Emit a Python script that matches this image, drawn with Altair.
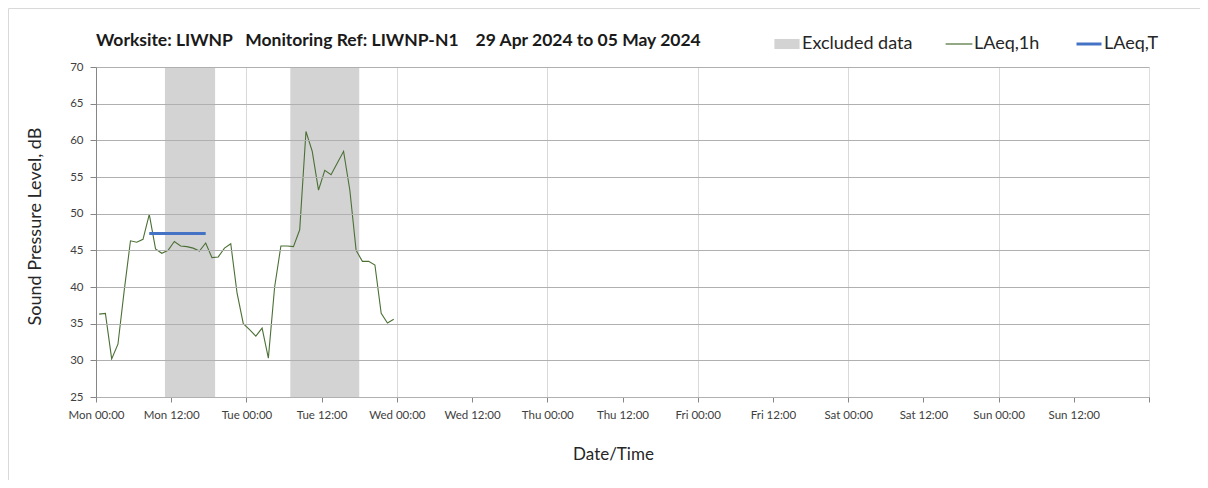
import altair as alt
import pandas as pd

# ---- data ----
series_names = ["Excluded data", "LAeq,1h", "LAeq,T"]
series_colors = ["#d3d3d3", "#4b7035", "#4472c4"]

day_names = ["Mon", "Tue", "Wed", "Thu", "Fri", "Sat", "Sun"]
tick_hours = [0, 12, 24, 36, 48, 60, 72, 84, 96, 108, 120, 132, 144, 156, 168]
y_ticks = [25, 30, 35, 40, 45, 50, 55, 60, 65, 70]

hours = [0.5, 1.5, 2.5, 3.5, 4.5, 5.5, 6.5, 7.5, 8.5, 9.5, 10.5, 11.5,
         12.5, 13.5, 14.5, 15.5, 16.5, 17.5, 18.5, 19.5, 20.5, 21.5, 22.5, 23.5,
         24.5, 25.5, 26.5, 27.5, 28.5, 29.5, 30.5, 31.5, 32.5, 33.5, 34.5, 35.5,
         36.5, 37.5, 38.5, 39.5, 40.5, 41.5, 42.5, 43.5, 44.5, 45.5, 46.5, 47.5]
laeq_1h = [36.3, 36.4, 30.2, 32.2, 39.5, 46.3, 46.1, 46.5, 49.9, 45.2, 44.6, 45.0,
           46.2, 45.6, 45.5, 45.3, 44.9, 46.0, 44.0, 44.1, 45.3, 45.9, 39.2, 35.0,
           34.2, 33.3, 34.4, 30.3, 40.0, 45.6, 45.6, 45.5, 47.8, 61.2, 58.5, 53.2,
           55.9, 55.3, 56.9, 58.5, 53.2, 45.0, 43.5, 43.5, 43.0, 36.4, 35.1, 35.6]

laeqT_hours = [8.5, 17.5]
laeqT_values = [47.3, 47.3]

excl_start = [11, 31]
excl_end = [19, 42]

y_min, y_max = 25, 70

title_text = ("Worksite: LIWNP\u00a0\u00a0\u00a0Monitoring Ref: LIWNP-N1"
              "\u00a0\u00a0\u00a0\u00a029 Apr 2024 to 05 May 2024")

# ---- tables ----
excl_df = pd.DataFrame({"start": excl_start, "end": excl_end,
                        "series": ["Excluded data"] * len(excl_start),
                        "ymin": [y_min] * len(excl_start),
                        "ymax": [y_max] * len(excl_start)})
line_df = pd.DataFrame({"hour": hours, "level": laeq_1h,
                        "series": ["LAeq,1h"] * len(hours)})
t_df = pd.DataFrame({"hour": laeqT_hours, "level": laeqT_values,
                     "series": ["LAeq,T"] * len(laeqT_hours)})

FONT = "Lato"

x_scale = alt.Scale(domain=[0, 168], nice=False, zero=False)
y_scale = alt.Scale(domain=[y_min, y_max], nice=False, zero=False)

label_expr = ("datum.value >= 168 ? '' : " + str(day_names) +
              "[floor(datum.value / 24)] + ' ' + (datum.value % 24 == 0 ? '00:00' : '12:00')")

x_axis = alt.Axis(values=tick_hours, labelExpr=label_expr, title="Date/Time",
                  grid=True, gridColor="#d9d9d9",
                  gridOpacity={"condition": {"test": "datum.value % 24 === 0 && datum.value > 0 && datum.value < 168",
                                             "value": 1}, "value": 0},
                  domainColor="#868686", tickColor="#868686", tickSize=5,
                  labelFont=FONT, labelFontSize=11.5, labelColor="#404040", labelPadding=7,
                  labelFlush=False, labelOverlap=False,
                  titleFont=FONT, titleFontSize=17, titleFontWeight="normal", titleColor="#262626",
                  titleX=517, titleY=57, titleBaseline="middle", titleAnchor="middle")
y_axis = alt.Axis(values=y_ticks, title="Sound Pressure Level, dB",
                  grid=True, gridColor="#b0b0b0", zindex=1,
                  domainColor="#868686", tickColor="#868686", tickSize=6,
                  labelFont=FONT, labelFontSize=11.5, labelColor="#404040", labelPadding=7,
                  labelOverlap=False, labelFlush=False,
                  titleFont=FONT, titleFontSize=18, titleFontWeight="normal", titleColor="#262626",
                  titleX=-61, titleY=159, titleAngle=270, titleBaseline="middle", titleAlign="center")

color_enc = alt.Color(
    "series:N",
    scale=alt.Scale(domain=series_names, range=series_colors),
    legend=alt.Legend(
        title=None, orient="none", legendX=682, legendY=-32, direction="horizontal",
        labelFont=FONT, labelFontSize=18,
        labelColor="#262626", labelOffset=6, columnPadding=30, padding=0,
        symbolOpacity=1,
        symbolType={"expr": "datum.value === 'Excluded data' ? 'M-0.9,-0.36H0.9V0.36H-0.9Z' : 'M-1,0H1'"},
        symbolSize={"expr": "datum.value === 'Excluded data' ? 784 : (datum.value === 'LAeq,T' ? 625 : 718)"},
        symbolFillColor={"expr": "datum.value === 'Excluded data' ? scale('color', datum.value) : 'transparent'"},
        symbolStrokeColor={"expr": "scale('color', datum.value)"},
        symbolStrokeWidth={"expr": "datum.value === 'Excluded data' ? 0 : (datum.value === 'LAeq,T' ? 3 : 1.2)"},
    ),
)

frame_df = pd.DataFrame({"k": [0]})
frame = alt.Chart(frame_df).mark_rect(fill="transparent", stroke="#d9d9d9", strokeWidth=1).encode(
    x=alt.value(-87.5), x2=alt.value(1400), y=alt.value(-58.5), y2=alt.value(600)
)

bands = alt.Chart(excl_df).mark_rect().encode(
    x=alt.X("start:Q", scale=x_scale, axis=x_axis),
    x2="end:Q",
    y=alt.Y("ymin:Q", scale=y_scale, axis=y_axis),
    y2="ymax:Q",
    color=color_enc,
)

line = alt.Chart(line_df).mark_line(strokeWidth=1.1).encode(
    x=alt.X("hour:Q", scale=x_scale, axis=x_axis),
    y=alt.Y("level:Q", scale=y_scale, axis=y_axis),
    color=alt.Color("series:N"),
)

tline = alt.Chart(t_df).mark_line(strokeWidth=3).encode(
    x=alt.X("hour:Q", scale=x_scale, axis=x_axis),
    y=alt.Y("level:Q", scale=y_scale, axis=y_axis),
    color=alt.Color("series:N"),
)

chart = alt.layer(bands, line, tline, frame).properties(
    width=1053, height=330,
    autosize=alt.AutoSizeParams(type="none"),
    padding={"left": 88, "top": 59, "right": 51, "bottom": 83},
    title=alt.Title(title_text, anchor="start", font=FONT, fontSize=17.5, fontWeight="bold",
                    color="#1a1a1a", offset=17, dy=58, frame="group"),
).configure_view(stroke="#868686", strokeWidth=1).configure(background="white").configure_axisY(
    labelOverlap=False
)

chart.save("out.html", embed_options={"renderer": "svg", "actions": False})
